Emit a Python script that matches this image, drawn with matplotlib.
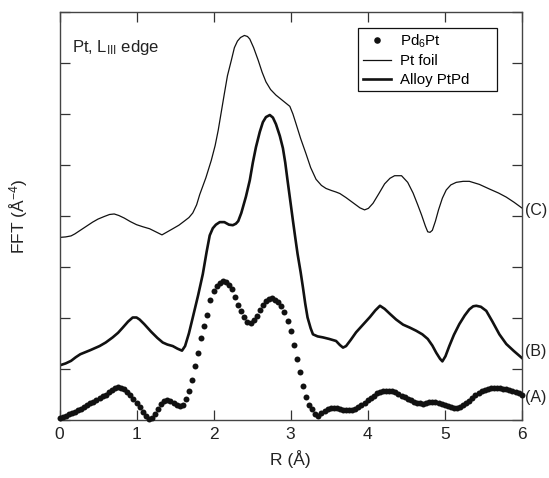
"""FFT magnitude of Pt L_III edge EXAFS: Pd6Pt, Pt foil and PtPd alloy"""

import numpy as np
import matplotlib
matplotlib.use("Agg")
import matplotlib.pyplot as plt

plt.rcParams['font.family'] = ['Liberation Sans', 'DejaVu Sans']
plt.rcParams['mathtext.default'] = 'regular'

# (A) Pd6Pt, sampled every 0.04 A from 0 to 6
r_pd6pt = np.arange(151) * 0.04
fft_pd6pt = [
    0.03, 0.05, 0.08, 0.11, 0.13, 0.16, 0.19, 0.21, 0.25, 0.29,
    0.33, 0.36, 0.40, 0.43, 0.47, 0.50, 0.55, 0.59, 0.62, 0.64,
    0.63, 0.60, 0.55, 0.49, 0.42, 0.34, 0.25, 0.16, 0.08, 0.02,
    0.03, 0.12, 0.22, 0.31, 0.37, 0.40, 0.38, 0.34, 0.30, 0.27,
    0.30,
    0.42, 0.56, 0.78, 1.06, 1.32, 1.60, 1.85, 2.05, 2.35, 2.52,
    2.62, 2.68, 2.73, 2.70, 2.65, 2.57, 2.42, 2.25, 2.13, 2.02,
    1.93, 1.91, 1.96, 2.04, 2.15, 2.26, 2.33, 2.38, 2.39, 2.36,
    2.32, 2.24, 2.11, 1.94, 1.74, 1.48, 1.20, 0.95, 0.67, 0.45,
    0.30, 0.21, 0.12, 0.07,
    0.14, 0.18, 0.21, 0.23, 0.24, 0.24, 0.22, 0.20, 0.19, 0.19,
    0.20, 0.22, 0.25, 0.29, 0.34, 0.39, 0.44, 0.48, 0.52, 0.55,
    0.57, 0.57, 0.57, 0.56, 0.54, 0.51, 0.48, 0.45, 0.42, 0.39,
    0.36, 0.34, 0.33, 0.32, 0.33, 0.35, 0.36, 0.36, 0.34, 0.31,
    0.29, 0.27, 0.25, 0.24, 0.24, 0.25, 0.29, 0.33, 0.38, 0.44,
    0.49, 0.53, 0.57, 0.59, 0.61, 0.62, 0.63, 0.63, 0.62, 0.61,
    0.60, 0.58, 0.56, 0.54, 0.52, 0.50,
]

# (C) Pt foil
r_foil = [0.0, 0.08, 0.15, 0.2, 0.26, 0.35, 0.43, 0.5, 0.58, 0.65,
          0.71, 0.77, 0.84, 0.92, 1.0, 1.08, 1.17, 1.25, 1.33, 1.4,
          1.47, 1.55, 1.62, 1.68, 1.73, 1.78, 1.82, 1.9, 1.97, 2.02,
          2.06, 2.10, 2.14, 2.18, 2.23, 2.27, 2.31, 2.35, 2.40, 2.44,
          2.47, 2.52, 2.58, 2.63, 2.68, 2.74, 2.81, 2.9, 2.99, 3.03,
          3.07, 3.13, 3.20, 3.26, 3.33, 3.40, 3.46, 3.53, 3.59, 3.64,
          3.72, 3.81, 3.90, 3.96, 4.01, 4.07, 4.15, 4.22, 4.29, 4.35,
          4.44, 4.52, 4.59, 4.65, 4.70, 4.75, 4.78, 4.81, 4.84, 4.88,
          4.92, 4.97, 5.02, 5.08, 5.15, 5.24, 5.32, 5.45, 5.58, 5.70,
          5.80, 5.90, 6.0]
fft_foil = [3.58, 3.59, 3.61, 3.65, 3.71, 3.80, 3.88, 3.94, 3.99, 4.03,
            4.04, 4.01, 3.96, 3.89, 3.83, 3.79, 3.75, 3.69, 3.63, 3.69,
            3.75, 3.82, 3.90, 3.97, 4.06, 4.22, 4.42, 4.75, 5.09, 5.38,
            5.68, 6.04, 6.40, 6.75, 7.05, 7.30, 7.43, 7.50, 7.54, 7.52,
            7.47, 7.30, 7.05, 6.82, 6.63, 6.48, 6.37, 6.26, 6.15, 6.00,
            5.81, 5.52, 5.22, 4.95, 4.72, 4.60, 4.54, 4.50, 4.47, 4.44,
            4.36, 4.26, 4.16, 4.12, 4.15, 4.25, 4.45, 4.63, 4.74, 4.79,
            4.79, 4.66, 4.45, 4.22, 4.02, 3.80, 3.69, 3.68, 3.72, 3.90,
            4.12, 4.35, 4.51, 4.61, 4.66, 4.68, 4.68, 4.62, 4.53, 4.45,
            4.37, 4.27, 4.16]

# (B) Alloy PtPd
r_alloy = [0.0, 0.08, 0.15, 0.21, 0.27, 0.4, 0.52, 0.6, 0.69, 0.76,
           0.82, 0.89, 0.95, 1.0, 1.04, 1.1, 1.19, 1.27, 1.34, 1.40,
           1.47, 1.53, 1.59, 1.63, 1.68, 1.73, 1.80, 1.86, 1.91, 1.95,
           1.99, 2.03, 2.08, 2.14, 2.20, 2.25, 2.29, 2.32, 2.36, 2.42,
           2.47, 2.51, 2.55, 2.60, 2.64, 2.68, 2.73, 2.77, 2.81, 2.86,
           2.90, 2.93, 2.96, 3.00, 3.03, 3.06, 3.09, 3.13, 3.16, 3.19,
           3.22, 3.26, 3.29, 3.35, 3.42, 3.50, 3.59, 3.64, 3.68, 3.72,
           3.78, 3.85, 3.94, 4.03, 4.10, 4.16, 4.22, 4.29, 4.37, 4.46,
           4.55, 4.63, 4.71, 4.78, 4.84, 4.89, 4.94, 4.97, 5.01, 5.06,
           5.12, 5.19, 5.26, 5.32, 5.37, 5.41, 5.47, 5.54, 5.62, 5.71,
           5.80, 5.90, 6.0]
fft_alloy = [1.07, 1.11, 1.16, 1.23, 1.29, 1.37, 1.45, 1.52, 1.62, 1.71,
             1.81, 1.93, 2.01, 2.01, 1.97, 1.88, 1.73, 1.61, 1.52, 1.48,
             1.45, 1.40, 1.36, 1.45, 1.70, 2.01, 2.45, 2.86, 3.30, 3.62,
             3.76, 3.83, 3.88, 3.88, 3.83, 3.82, 3.85, 3.90, 4.06, 4.38,
             4.70, 5.05, 5.35, 5.65, 5.84, 5.94, 5.98, 5.93, 5.80, 5.57,
             5.33, 5.05, 4.70, 4.25, 3.91, 3.58, 3.26, 2.90, 2.60, 2.28,
             2.01, 1.80, 1.68, 1.64, 1.62, 1.59, 1.55, 1.47, 1.42, 1.45,
             1.57, 1.72, 1.87, 2.02, 2.15, 2.24, 2.18, 2.08, 1.97, 1.87,
             1.81, 1.75, 1.68, 1.59, 1.46, 1.32, 1.20, 1.15, 1.25, 1.45,
             1.67, 1.88, 2.05, 2.17, 2.23, 2.24, 2.22, 2.14, 1.93, 1.68,
             1.49, 1.35, 1.22]

curve_tags = ["(C)", "(B)", "(A)"]
tag_heights = [4.10, 1.35, 0.44]

fig = plt.figure(figsize=(5.49, 4.78), dpi=100)
ax = fig.add_axes([0.1084, 0.1213, 0.8419, 0.8536])

ax.plot(r_pd6pt, fft_pd6pt, 'o', color='#111111', ms=4.3, mew=0,
        label='Pd$_6$Pt', clip_on=False, zorder=3)
ax.plot(r_foil, fft_foil, '-', color='#111111', lw=0.9, label='Pt foil')
ax.plot(r_alloy, fft_alloy, '-', color='#111111', lw=1.9, label='Alloy PtPd')

ax.set_xlim(0, 6)
ax.set_ylim(0, 8)
ax.set_xticks(range(0, 7))
ax.set_yticks(range(0, 9))
ax.set_yticklabels([])
ax.tick_params(direction='in', length=7.5, width=0.9, top=True, right=True,
               labelsize=12.5, colors='#333333', labelcolor='#222222', pad=5)
for side in ax.spines.values():
    side.set_color('#444444')
    side.set_linewidth(1.0)

ax.set_xlabel('R (Å)', fontsize=12.5, color='#222222', labelpad=6)
ax.set_ylabel('FFT (Å$^{-4}$)', fontsize=12.5, color='#222222', labelpad=16)

ax.text(0.16, 7.31, 'Pt, L$_{III}$ edge', fontsize=12, color='#222222',
        va='center', ha='left')

for tag, h in zip(curve_tags, tag_heights):
    ax.text(6.04, h, tag, fontsize=11.5, color='#222222', va='center',
            ha='left', clip_on=False)

# legend box is wider than its text in the original, so expand it
leg = ax.legend(loc='upper left', mode='expand',
                bbox_to_anchor=(358 / 549, 1 - 95 / 478, 139 / 549, 67 / 478),
                bbox_transform=fig.transFigure, fontsize=10.8, numpoints=1,
                markerscale=1.1, fancybox=False, framealpha=1,
                edgecolor='#111111', handlelength=1.9, handletextpad=0.6,
                borderpad=0.3, labelspacing=0.3, borderaxespad=0)
leg.get_frame().set_linewidth(0.9)

fig.savefig('out.png', dpi=100)
